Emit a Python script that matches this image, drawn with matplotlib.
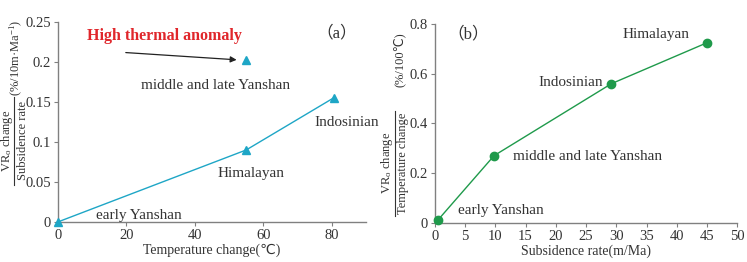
import matplotlib
matplotlib.use("Agg")
import matplotlib.pyplot as plt
from matplotlib.lines import Line2D

plt.rcParams['font.family'] = ['Liberation Serif', 'DejaVu Sans']
plt.rcParams['mathtext.fontset'] = 'custom'
plt.rcParams['mathtext.rm'] = 'Liberation Serif'
plt.rcParams['mathtext.it'] = 'Liberation Serif:italic'

# panel (a)
temp_change = [0, 55, 80.5]
vr_per_subs = [0, 0.09, 0.155]
anomaly_x, anomaly_y = 55, 0.203
labels_a = ["early Yanshan", "Himalayan", "Indosinian", "middle and late Yanshan"]
yticks_a = [0, 0.05, 0.1, 0.15, 0.2, 0.25]
yticklabels_a = ["0", "0.05", "0.1", "0.15", "0.2", "0.25"]
xticks_a = [0, 20, 40, 60, 80]

# panel (b)
subs_rate = [0.5, 9.8, 29.2, 45]
vr_per_temp = [0.01, 0.27, 0.56, 0.725]
labels_b = ["early Yanshan", "middle and late Yanshan", "Indosinian", "Himalayan"]
yticks_b = [0, 0.2, 0.4, 0.6, 0.8]
yticklabels_b = ["0", "0.2", "0.4", "0.6", "0.8"]
xticks_b = list(range(0, 51, 5))

cyan = '#1ea6c6'
green = '#1f9a4b'
axc = '#808080'
tc = '#333333'

W, H = 747, 262
fig = plt.figure(figsize=(W / 100, H / 100), dpi=100)
ax1 = fig.add_axes([0.0776, 0.153, 0.4124, 0.763])
ax2 = fig.add_axes([0.582, 0.150, 0.405, 0.758])


def px(x, y):
    return x / W, 1 - y / H


def vtext(x, y, s, fs=9):
    # vertical text, x is the baseline position in pixels
    fig.text(*px(x, y), s, rotation=90, rotation_mode='anchor',
             ha='center', va='baseline', fontsize=fs, color=tc)


def frac_label(xn, xl, xd, yc, y0, y1, num, den, unit, xu, yu):
    vtext(xn, yc, num)
    vtext(xd, yc, den)
    fig.add_artist(Line2D([xl / W, xl / W], [1 - y1 / H, 1 - y0 / H],
                          transform=fig.transFigure, color=tc, lw=0.8))
    vtext(xu, yu, unit)


for ax in (ax1, ax2):
    for s in ('top', 'right'):
        ax.spines[s].set_visible(False)
    for s in ('left', 'bottom'):
        ax.spines[s].set_color(axc)
        ax.spines[s].set_linewidth(1.0)
    ax.tick_params(direction='out', length=3, width=0.8, color=axc,
                   labelsize=10.5, labelcolor=tc, pad=2)

txt = dict(fontsize=11, color=tc, ha='center', va='center')

# (a)
ax1.plot(temp_change, vr_per_subs, color=cyan, lw=1.0, marker='^', ms=6,
         clip_on=False, zorder=3)
ax1.plot([anomaly_x], [anomaly_y], color=cyan, marker='^', ms=6, ls='none',
         clip_on=False, zorder=3)
ax1.set_xlim(0, 90)
ax1.set_ylim(0, 0.25)
ax1.set_xticks(xticks_a)
ax1.set_yticks(yticks_a)
ax1.set_yticklabels(yticklabels_a)
ax1.set_xlabel("Temperature change(℃)", fontsize=10, color=tc, labelpad=1)
frac_label(10, 14.5, 25.5, 141, 97, 185, r"VR$_\mathrm{o}$ change",
           "Subsidence rate", r"(%/10m·Ma$^{-1}$)", 19.5, 58)
ax1.text(23.6, 0.0075, labels_a[0], **txt)
ax1.text(56.5, 0.060, labels_a[1], **txt)
ax1.text(84.4, 0.124, labels_a[2], **txt)
ax1.text(46, 0.171, labels_a[3], **txt)
ax1.text(81.5, 0.236, "（a）", fontsize=12, color=tc, ha='center', va='center',
         family=['Liberation Serif', 'Noto Sans CJK SC'])
ax1.text(31, 0.232, "High thermal anomaly", fontsize=11.5, color='#e0262b',
         fontweight='bold', ha='center', va='center')
ax1.annotate("", xy=(53, 0.2025), xytext=(19, 0.212),
             arrowprops=dict(arrowstyle='-|>', color='#222222', lw=0.9,
                             mutation_scale=9))

# (b)
ax2.plot(subs_rate, vr_per_temp, color=green, lw=1.0, marker='o', ms=6,
         clip_on=False, zorder=3)
ax2.set_xlim(0, 50)
ax2.set_ylim(0, 0.8)
ax2.set_xticks(xticks_b)
ax2.set_yticks(yticks_b)
ax2.set_yticklabels(yticklabels_b)
ax2.set_xlabel("Subsidence rate(m/Ma)", fontsize=10, color=tc, labelpad=1)
frac_label(389.5, 394.5, 406, 163, 111, 216, r"VR$_\mathrm{o}$ change",
           "Temperature change", "(%/100℃)", 403, 60)
ax2.text(10.9, 0.05, labels_b[0], **txt)
ax2.text(25.2, 0.265, labels_b[1], **txt)
ax2.text(22.4, 0.563, labels_b[2], **txt)
ax2.text(36.6, 0.757, labels_b[3], **txt)
ax2.text(5.5, 0.757, "（b）", fontsize=12, color=tc, ha='center', va='center',
         family=['Liberation Serif', 'Noto Sans CJK SC'])

fig.savefig("out.png", dpi=100)
